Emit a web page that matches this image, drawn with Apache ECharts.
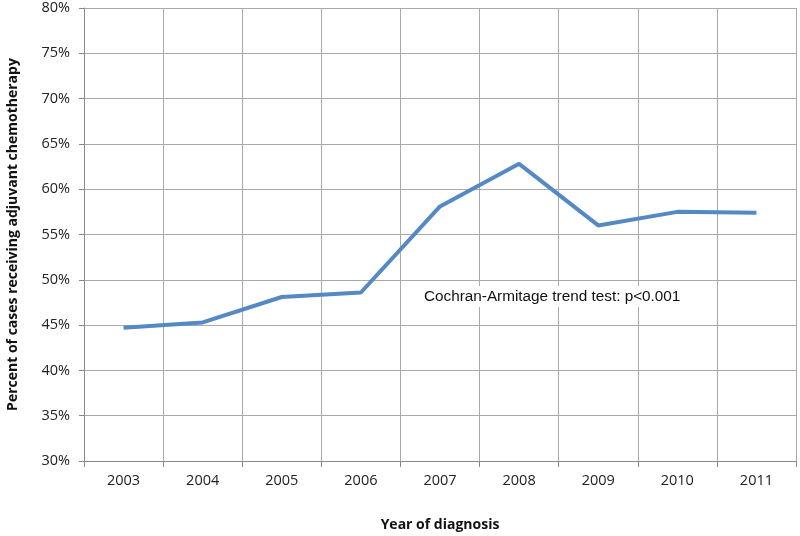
<!DOCTYPE html>
<html><head><meta charset="utf-8">
<script src="https://cdn.jsdelivr.net/npm/echarts@6/dist/echarts.min.js"></script>
<style>html,body{margin:0;padding:0;background:#fff}#c{width:800px;height:536px}</style>
</head><body><div id="c"></div>
<script>
const years = ['2003','2004','2005','2006','2007','2008','2009','2010','2011'];
const percentChemo = [44.7, 45.3, 48.1, 48.6, 58.1, 62.8, 56.0, 57.5, 57.4];
const yTicks = [30, 35, 40, 45, 50, 55, 60, 65, 70, 75, 80];
const annotation = 'Cochran-Armitage trend test: p<0.001';

const chart = echarts.init(document.getElementById('c'));
chart.setOption({
  animation: false,
  grid: {left: 84, right: 4, top: 8, bottom: 75, containLabel: false, outerBoundsMode: 'none'},
  xAxis: {
    type: 'category', data: years, boundaryGap: true,
    name: 'Year of diagnosis', nameLocation: 'middle', nameGap: 57,
    nameTextStyle: {fontFamily: 'Open Sans', fontWeight: 'bold', fontSize: 14, color: '#111'},
    axisLine: {lineStyle: {color: '#888', width: 1}},
    axisTick: {show: true, length: 6, alignWithLabel: false, lineStyle: {color: '#888'}},
    axisLabel: {fontFamily: 'Open Sans', fontSize: 14.5, color: '#222', margin: 12},
    splitLine: {show: true, lineStyle: {color: '#aaa', width: 1}}
  },
  yAxis: {
    type: 'value', min: yTicks[0], max: yTicks[yTicks.length-1], interval: 5,
    name: 'Percent of cases receiving adjuvant chemotherapy', nameLocation: 'middle', nameGap: 64,
    nameTextStyle: {fontFamily: 'Open Sans', fontWeight: 'bold', fontSize: 14, color: '#111'},
    axisLine: {show: true, lineStyle: {color: '#888', width: 1}},
    axisTick: {show: true, length: 5, lineStyle: {color: '#888'}},
    axisLabel: {fontFamily: 'Open Sans', fontSize: 14.5, color: '#222', margin: 14, formatter: v => v + '%'},
    splitLine: {show: true, lineStyle: {color: '#aaa', width: 1}}
  },
  series: [{
    type: 'line', data: percentChemo, symbol: 'none',
    lineStyle: {color: '#5589c4', width: 4}
  }],
  graphic: [{
    type: 'text', left: 421, top: 286, z: 10,
    style: {text: annotation, fontFamily: 'Liberation Sans', fontSize: 15.3, fill: '#111',
            backgroundColor: '#fff', padding: [3, 3]}
  }]
});
</script></body></html>
